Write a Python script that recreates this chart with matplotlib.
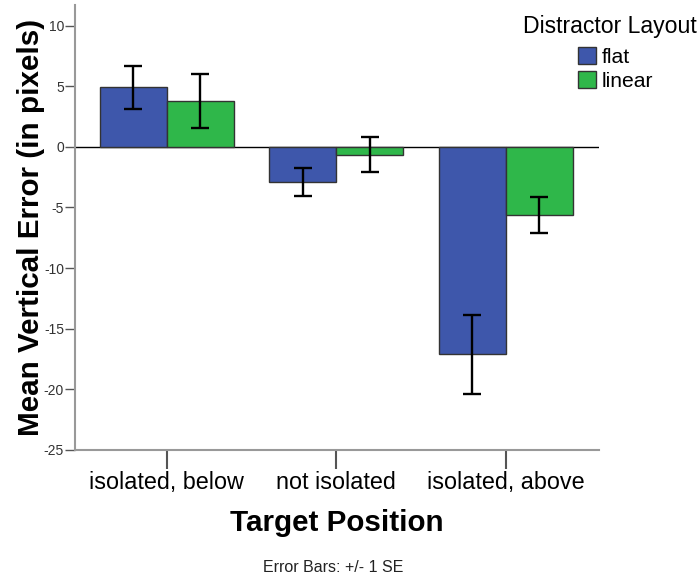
import numpy as np
import matplotlib.pyplot as plt
from matplotlib.patches import Patch

plt.rcParams['font.family'] = ['Liberation Sans', 'DejaVu Sans']
plt.rcParams['axes.unicode_minus'] = False

positions = ["isolated, below", "not isolated", "isolated, above"]
layouts = ["flat", "linear"]
flat_mean = [4.9, -2.9, -17.1]
flat_se = [1.74, 1.13, 3.25]
linear_mean = [3.8, -0.66, -5.63]
linear_se = [2.24, 1.45, 1.49]

colors = ["#3e57ab", "#2fb74a"]

fig = plt.figure(figsize=(6.99, 5.79), dpi=100)
ax = fig.add_axes([0.1073, 0.2228, 0.7497, 0.7686])

x = np.arange(len(positions))
w = 0.395
for i, (means, ses) in enumerate([(flat_mean, flat_se), (linear_mean, linear_se)]):
    xs = x - w / 2 + i * w
    ax.bar(xs, means, width=w, color=colors[i], edgecolor="#333333", linewidth=1.0, zorder=2)
    ax.errorbar(xs, means, yerr=ses, fmt='none', ecolor='black', elinewidth=1.7,
                capsize=6.5, capthick=1.7, zorder=3)

ax.axhline(0, color='black', linewidth=1.0, zorder=1)

ax.set_xlim(-0.54, 2.55)
ax.set_ylim(-25, 11.7)
ax.set_yticks([10, 5, 0, -5, -10, -15, -20, -25])
ax.set_xticks(x)
ax.set_xticklabels(positions, fontsize=16.8)

for s in ['top', 'right']:
    ax.spines[s].set_visible(False)
for s in ['left', 'bottom']:
    ax.spines[s].set_color('#999999')
    ax.spines[s].set_linewidth(1.5)

ax.tick_params(axis='y', labelsize=10, labelcolor='#333333', length=7, width=1, color='#555555', pad=1)
ax.tick_params(axis='x', length=14, width=1.5, color='#555555', pad=1)

ax.set_ylabel("Mean Vertical Error (in pixels)", fontsize=21.3, fontweight='bold')
ax.yaxis.set_label_coords(-0.057, 0.5)
ax.set_xlabel("Target Position", fontsize=21.3, fontweight='bold', labelpad=11)

fig.text(0.477, 1 - 567 / 579, "Error Bars: +/- 1 SE", fontsize=11.5, ha='center', va='center', color='#222222')

fig.text(523 / 699, 1 - 27 / 579, "Distractor Layout", fontsize=16.6, ha='left', va='center')
handles = [Patch(facecolor=colors[i], edgecolor="#333333", label=layouts[i]) for i in range(2)]
fig.legend(handles=handles, loc='upper left', bbox_to_anchor=(578 / 699, 1 - 47 / 579),
           frameon=False, fontsize=15.2, handlelength=0.86, handleheight=0.86,
           handletextpad=0.25, labelspacing=0.2, borderaxespad=0, borderpad=0)

fig.savefig("out.png", dpi=100)
